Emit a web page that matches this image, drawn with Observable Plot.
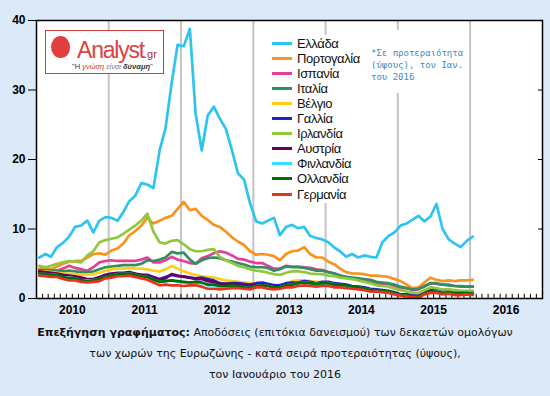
<!DOCTYPE html>
<html><head><meta charset="utf-8">
<script src="https://cdn.jsdelivr.net/npm/d3@7"></script>
<script src="https://cdn.jsdelivr.net/npm/@observablehq/plot@0.6"></script>
<style>
html,body{margin:0;padding:0;background:#dce9f9;}
#wrap{position:relative;width:550px;height:396px;overflow:hidden;}
#chart svg{display:block;}
.legend{position:absolute;left:268px;top:35px;width:98px;height:168px;background:#fff;font-family:"Liberation Sans",Arial,sans-serif;font-size:13px;letter-spacing:-0.4px;color:#111;}
.legend .item{position:absolute;left:0;height:15px;display:flex;align-items:center;white-space:nowrap;}
.legend .sw{width:20px;height:3px;margin-left:4px;margin-right:5px;flex:none;}
.note{position:absolute;left:368px;top:30px;background:#fff;font-family:"DejaVu Sans Mono",monospace;font-size:9px;line-height:12px;color:#3b8dbd;padding:17px 3px 10px 3px;white-space:nowrap;}
.logo{position:absolute;left:45px;top:30px;width:117px;height:42px;background:#fff;border:1.5px solid #cf3b3b;}
.logo .head{position:absolute;left:5px;top:5px;width:19px;height:22px;border-radius:50% 50% 45% 50%;background:#e0403f;}
.logo .name{position:absolute;left:31px;top:7px;font-family:"Liberation Sans",Arial,sans-serif;font-size:23px;line-height:24px;letter-spacing:-1.2px;color:#e0403f;}
.logo .gr{position:absolute;left:98px;top:17px;font-family:"Liberation Sans",sans-serif;font-size:11px;line-height:12px;color:#b52d2d;}
.logo .tag{position:absolute;left:26px;top:31px;width:80px;text-align:center;font-family:"Liberation Sans",sans-serif;font-size:7.5px;line-height:9px;color:#333;white-space:nowrap;}
.caption{position:absolute;top:322px;left:0;width:550px;text-align:center;font-family:"DejaVu Sans",sans-serif;font-size:11px;line-height:21px;color:#111;}
</style>
</head><body>
<div id="wrap">
  <div id="chart"></div>
  <div class="logo"><div class="head"></div><div class="name">Analyst</div><div class="gr">.gr</div>
    <div class="tag">"Η <i style="color:#d03030">γνώση</i> <i style="color:#777">είναι</i> <b><i>δύναμη</i></b>"</div></div>
  <div class="legend" id="legend"></div>
  <div class="note">*Σε προτεραιότητα<br>(ύψους), τον Ιαν.<br>του 2016</div>
  <div class="caption"><b>Επεξήγηση γραφήματος:</b> Αποδόσεις (επιτόκια δανεισμού) των δεκαετών ομολόγων<br>των χωρών της Ευρωζώνης - κατά σειρά προτεραιότητας (ύψους),<br>τον Ιανουάριο του 2016</div>
</div>
<script>
const countries = ["Ελλάδα","Πορτογαλία","Ισπανία","Ιταλία","Βέλγιο","Γαλλία","Ιρλανδία","Αυστρία","Φινλανδία","Ολλανδία","Γερμανία"];
const colors = ["#2ec4f0","#f7931e","#e63e98","#2f8f5f","#fdd017","#2222cc","#92c83e","#660066","#33e0ff","#007000","#e8331f"];
const years = [2010,2011,2012,2013,2014,2015,2016];
const yTicks = [0,10,20,30,40];

const greece = [5.9,6.4,6.0,7.4,8.0,8.9,10.3,10.5,11.2,9.5,11.2,11.7,
 11.6,11.2,12.4,14.0,14.8,16.6,16.4,15.9,21.3,24.5,31.0,36.5,
 36.3,38.8,26.6,21.3,26.3,27.6,25.9,24.4,21.3,18.0,17.1,13.7,
 11.1,10.8,11.2,11.6,9.1,10.3,10.6,10.1,10.3,9.0,8.7,8.5,
 8.1,7.3,6.8,6.0,6.4,5.9,6.2,6.0,5.9,8.1,9.0,9.5,
 10.5,10.8,11.3,11.9,11.1,11.8,13.6,10.0,8.5,7.9,7.4,8.3,
 8.9];
const portugal = [4.3,4.4,4.2,4.6,5.0,5.3,5.4,5.4,5.9,6.4,6.5,6.3,
 6.9,7.2,7.9,9.1,9.7,10.5,11.6,10.8,11.2,11.6,11.9,12.9,
 13.9,12.7,12.9,11.9,11.3,10.6,10.3,9.6,8.8,8.2,7.7,6.8,
 6.3,6.4,6.3,6.1,5.5,6.4,6.8,6.9,7.4,6.4,5.9,5.9,
 5.3,4.9,4.3,3.8,3.6,3.6,3.5,3.3,3.3,3.2,3.1,2.8,
 2.5,2.0,1.5,1.6,2.3,3.0,2.7,2.5,2.6,2.5,2.6,2.6,
 2.7];
const spain = [4.0,4.0,3.9,4.0,4.3,4.7,4.4,4.2,4.0,4.5,5.2,5.4,
 5.5,5.4,5.4,5.4,5.4,5.6,5.9,5.2,5.2,5.5,6.0,5.6,
 5.4,5.1,5.0,5.8,6.1,6.5,6.8,6.6,6.2,5.7,5.6,5.3,
 5.1,5.1,4.7,4.3,4.3,4.7,4.6,4.6,4.5,4.4,4.2,4.1,
 3.8,3.6,3.3,3.1,2.9,2.7,2.7,2.4,2.2,2.1,2.1,1.8,
 1.5,1.5,1.2,1.3,1.8,2.2,2.1,2.0,2.0,1.8,1.7,1.7,
 1.7];
const italy = [4.1,4.1,4.0,4.0,3.9,4.0,3.9,3.8,3.8,3.9,4.2,4.5,
 4.6,4.7,4.8,4.8,4.8,5.0,5.5,5.4,5.6,5.9,6.7,6.5,
 6.6,5.6,5.0,5.5,5.8,5.9,5.8,5.5,5.3,5.1,4.9,4.6,
 4.5,4.5,4.4,4.0,4.2,4.6,4.5,4.5,4.4,4.2,4.0,4.0,
 3.8,3.6,3.3,3.1,3.0,2.9,2.8,2.7,2.4,2.3,2.2,2.0,
 1.7,1.5,1.3,1.4,1.7,2.2,2.2,2.0,1.9,1.8,1.8,1.7,
 1.7];
const belgium = [3.9,3.9,3.8,3.7,3.6,3.6,3.5,3.4,3.4,3.5,3.7,4.0,
 4.2,4.3,4.3,4.4,4.3,4.3,4.2,4.0,3.9,4.2,4.7,4.3,
 3.9,3.6,3.4,3.2,3.1,3.0,2.8,2.6,2.5,2.4,2.3,2.2,
 2.1,2.1,2.0,2.0,1.9,2.1,2.5,2.6,2.6,2.5,2.4,2.3,
 2.3,2.1,1.9,1.7,1.6,1.5,1.3,1.2,1.1,0.9,0.8,0.7,
 0.6,0.5,0.4,0.4,0.9,1.1,1.0,1.0,1.0,0.9,0.9,0.9,
 0.9];
const france = [3.6,3.6,3.5,3.5,3.1,3.1,3.0,2.8,2.7,2.7,2.9,3.3,
 3.5,3.6,3.6,3.7,3.5,3.4,3.4,3.1,2.8,3.1,3.4,3.2,
 3.2,3.0,2.9,3.0,2.8,2.6,2.2,2.1,2.2,2.2,2.1,2.0,
 2.2,2.3,2.1,1.9,1.9,2.2,2.3,2.3,2.5,2.4,2.2,2.4,
 2.4,2.2,2.1,2.0,1.8,1.7,1.6,1.4,1.3,1.2,1.1,0.9,
 0.6,0.6,0.5,0.4,0.9,1.2,1.2,1.0,1.1,0.9,0.9,1.0,
 0.9];
const ireland = [4.7,4.5,4.7,5.0,5.2,5.4,5.3,5.2,6.2,6.8,8.1,8.4,
 8.6,8.8,9.3,9.9,10.5,11.2,12.2,9.6,8.1,7.9,8.3,8.4,
 7.8,7.1,6.8,6.8,7.0,7.1,6.0,5.5,5.1,4.7,4.5,4.2,
 4.0,3.9,3.7,3.5,3.4,3.7,3.9,3.9,3.8,3.6,3.5,3.5,
 3.3,3.2,3.0,2.9,2.8,2.6,2.4,2.2,1.9,1.8,1.7,1.4,
 1.2,1.0,0.8,0.8,1.2,1.6,1.5,1.3,1.3,1.2,1.1,1.1,
 1.1];
const austria = [3.9,3.8,3.7,3.6,3.4,3.3,3.2,3.0,2.8,2.8,3.1,3.4,
 3.6,3.7,3.7,3.8,3.6,3.4,3.3,3.0,2.7,2.9,3.5,3.3,
 3.1,3.0,2.8,2.8,2.5,2.4,2.1,2.1,2.1,2.0,1.9,1.8,
 2.0,2.0,1.9,1.7,1.7,2.0,2.1,2.2,2.3,2.2,2.1,2.2,
 2.2,2.0,1.9,1.8,1.6,1.5,1.4,1.2,1.1,1.0,0.9,0.8,
 0.5,0.5,0.3,0.3,0.7,1.0,1.0,0.8,0.8,0.8,0.8,0.8,
 0.8];
const finland = [3.5,3.5,3.4,3.4,3.0,3.0,2.9,2.6,2.6,2.6,2.8,3.1,
 3.3,3.5,3.5,3.6,3.4,3.2,3.1,2.7,2.4,2.5,2.6,2.4,
 2.3,2.3,2.3,2.2,1.9,1.9,1.6,1.6,1.7,1.7,1.6,1.5,
 1.8,1.9,1.8,1.6,1.6,1.9,2.0,2.2,2.3,2.2,2.1,2.2,
 2.2,2.0,1.9,1.8,1.6,1.5,1.4,1.2,1.1,1.0,0.9,0.7,
 0.5,0.4,0.2,0.2,0.6,0.9,1.0,0.9,0.9,0.9,0.9,0.9,
 0.8];
const netherlands = [3.6,3.5,3.4,3.4,3.1,2.9,2.9,2.6,2.5,2.6,2.8,3.1,
 3.3,3.5,3.5,3.6,3.4,3.2,3.1,2.7,2.4,2.5,2.6,2.5,
 2.4,2.3,2.4,2.3,2.0,2.0,1.8,1.8,1.9,1.8,1.6,1.5,
 1.8,1.9,1.8,1.6,1.6,1.9,2.0,2.2,2.3,2.2,2.1,2.2,
 2.2,2.0,2.0,1.9,1.7,1.6,1.5,1.2,1.2,1.1,1.0,0.8,
 0.5,0.4,0.3,0.3,0.7,1.0,1.0,0.8,0.9,0.8,0.8,0.8,
 0.7];
const germany = [3.3,3.2,3.1,3.1,2.8,2.6,2.6,2.4,2.3,2.4,2.5,2.9,
 3.0,3.2,3.2,3.3,3.1,2.9,2.7,2.3,1.9,2.0,1.9,1.9,
 1.8,1.9,1.9,1.7,1.4,1.4,1.3,1.4,1.5,1.5,1.4,1.3,
 1.6,1.6,1.4,1.3,1.4,1.6,1.6,1.8,1.9,1.8,1.7,1.8,
 1.8,1.6,1.6,1.5,1.4,1.3,1.2,1.0,1.0,0.9,0.8,0.6,
 0.4,0.3,0.2,0.1,0.6,0.8,0.8,0.6,0.7,0.5,0.5,0.6,
 0.5];

const series = [greece,portugal,spain,italy,belgium,france,ireland,austria,finland,netherlands,germany];
const dates = greece.map((_, i) => new Date(Date.UTC(2010, i, 15)));
const table = countries.flatMap((c, k) => series[k].map((v, i) => ({country: c, date: dates[i], value: v})));

const xStart = new Date(Date.UTC(years[0], 0, 1));
const xEnd = new Date(Date.UTC(years[years.length - 1] + 1, 0, 1));
const yearStarts = years.slice(1).map(y => new Date(Date.UTC(y, 0, 1)));
const midYears = years.map(y => new Date(Date.UTC(y, 6, 1)));
const monthTicks = d3.utcMonth.range(xStart, xEnd);

const chart = Plot.plot({
  width: 550, height: 320,
  marginTop: 20, marginBottom: 22, marginLeft: 36, marginRight: 8,
  style: {background: "transparent", fontFamily: "Liberation Sans, Arial, sans-serif", color: "#000", overflow: "visible"},
  x: {type: "utc", domain: [xStart, xEnd]},
  y: {domain: [0, 40]},
  color: {domain: countries, range: colors},
  marks: [
    Plot.frame({fill: "white"}),
    Plot.ruleX(yearStarts, {stroke: "#c4c4c4", strokeWidth: 2}),
    Plot.ruleX(monthTicks, {y1: 0, y2: 0.6, stroke: "#000", strokeWidth: 1}),
    Plot.lineY(table, {x: "date", y: "value", z: "country", stroke: "country", strokeWidth: 2.7, strokeLinejoin: "round"}),
    Plot.frame({stroke: "#000", strokeWidth: 1.5}),
    Plot.axisY({ticks: yTicks, tickSize: 8, tickPadding: 3, fontSize: 12, fontWeight: "bold", label: null}),
    Plot.axisY({anchor: "right", ticks: yTicks, tickSize: -5, tickFormat: () => "", label: null}),
    Plot.axisX({ticks: midYears, tickSize: 0, tickPadding: 7, fontSize: 12, fontWeight: "bold", tickFormat: d => String(d.getUTCFullYear()), label: null})
  ]
});
document.getElementById("chart").appendChild(chart);

const legend = document.getElementById("legend");
countries.forEach((c, i) => {
  const it = document.createElement("div");
  it.className = "item";
  it.style.top = (0.5 + i * 15.1) + "px";
  const sw = document.createElement("span");
  sw.className = "sw"; sw.style.background = colors[i];
  const tx = document.createElement("span");
  tx.textContent = c;
  it.appendChild(sw); it.appendChild(tx);
  legend.appendChild(it);
});
</script>
</body></html>
